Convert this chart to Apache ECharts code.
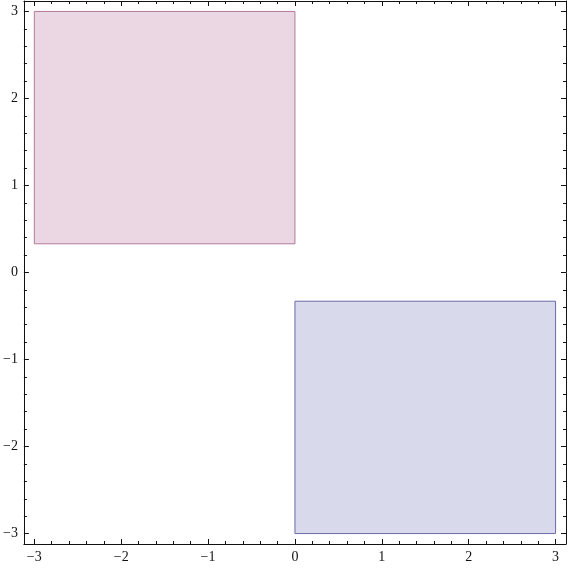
<!DOCTYPE html>
<html lang="en">
<head>
    <meta charset="UTF-8">
    <title>Regions</title>
    <script src="https://cdn.jsdelivr.net/npm/echarts@6/dist/echarts.min.js"></script>
</head>
<body style="margin:0;background:#fff">
<div id="chart" style="width:568px;height:568px"></div>
<script>
    // two rectangular regions
    var regionNames = ['upper-left', 'lower-right'];
    var xStart = [-3, 0];
    var xEnd = [0, 3];
    var yStart = [0.33, -3];
    var yEnd = [3, -0.33];
    var fillColors = ['#ebd7e3', '#d9d9ec'];
    var edgeColors = ['#b07c9b', '#6a6aa8'];

    var majorTicks = [-3, -2, -1, 0, 1, 2, 3];
    var minorTicks = [];
    for (var i = -15; i <= 15; i++) {
        if (i % 5 !== 0) minorTicks.push(i / 5);
    }
    var axisMin = -3.12, axisMax = 3.12;

    var data = regionNames.map(function (n, i) {
        return {name: n, value: [xStart[i], xEnd[i], yStart[i], yEnd[i]]};
    });

    function mkAxis(pos, ticks, len, labels, line) {
        return {
            type: 'value', position: pos, min: axisMin, max: axisMax,
            splitLine: {show: false},
            axisLine: {show: line, onZero: false, lineStyle: {color: '#111', width: 1}},
            axisTick: {show: true, inside: true, length: len, customValues: ticks,
                lineStyle: {color: '#111', width: 1}},
            axisLabel: {show: labels, customValues: majorTicks, color: '#111', margin: 6,
                fontFamily: 'Liberation Serif', fontSize: 14,
                formatter: function (v) { return v < 0 ? '\u2212' + (-v) : '' + v; }}
        };
    }

    var _chart = echarts.init(document.getElementById('chart'));
    var option = {
        animation: false,
        grid: {left: 23, right: 2, top: 1, bottom: 24},
        xAxis: [
            mkAxis('bottom', majorTicks, 5, true, true),
            mkAxis('bottom', minorTicks, 3, false, false),
            mkAxis('top', majorTicks, 5, false, true),
            mkAxis('top', minorTicks, 3, false, false)
        ],
        yAxis: [
            mkAxis('left', majorTicks, 5, true, true),
            mkAxis('left', minorTicks, 3, false, false),
            mkAxis('right', majorTicks, 5, false, true),
            mkAxis('right', minorTicks, 3, false, false)
        ],
        series: [{
            type: 'custom',
            xAxisIndex: 0,
            yAxisIndex: 0,
            data: data,
            renderItem: function (params, api) {
                var p0 = api.coord([api.value(0), api.value(3)]);
                var p1 = api.coord([api.value(1), api.value(2)]);
                var i = params.dataIndex;
                return {
                    type: 'rect',
                    shape: {x: p0[0], y: p0[1], width: p1[0] - p0[0], height: p1[1] - p0[1]},
                    style: {fill: fillColors[i], stroke: edgeColors[i], lineWidth: 1}
                };
            }
        }]
    };
    _chart.setOption(option, true);
</script>
</body>
</html>
